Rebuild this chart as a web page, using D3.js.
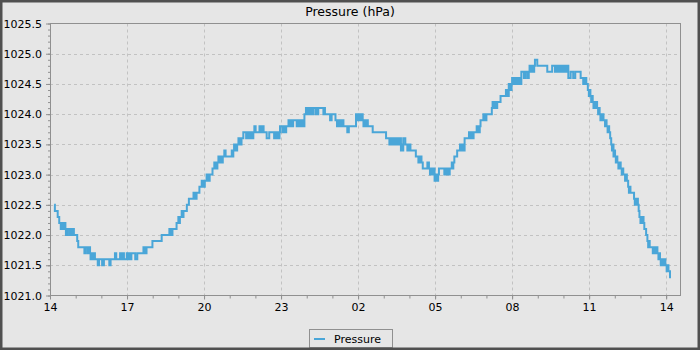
<!DOCTYPE html>
<html>
<head>
<meta charset="utf-8">
<script src="https://cdn.jsdelivr.net/npm/d3@7/dist/d3.min.js"></script>
<style>
  html, body { margin: 0; padding: 0; background: #e6e6e6; }
  svg { display: block; }
  text { font-family: "DejaVu Sans", sans-serif; fill: #000; }
</style>
</head>
<body>
<svg id="chart" width="700" height="350"></svg>
<script>
// Hour offsets of the x-axis ticks from the first label, and their labels
const xTickHours = [0, 3, 6, 9, 12, 15, 18, 21, 24];
const xTickLabels = ["14", "17", "20", "23", "02", "05", "08", "11", "14"];
const xMinorHours = d3.range(0, 25, 1);
const xSpanHours = 24.54;

// Pressure axis
const yDomain = [1021.0, 1025.5];
const yMajorTicks = [1021.0, 1021.5, 1022.0, 1022.5, 1023.0, 1023.5, 1024.0, 1024.5, 1025.0, 1025.5];
const yMinorTicks = d3.range(10210, 10256, 1).map(v => v / 10);

const chartTitle = "Pressure (hPa)";
const seriesName = "Pressure";

// Readings: [hours after 14:00, pressure in hPa]; each value holds until the next reading
const readings = [
  [0.16,1022.5],[0.19,1022.4],[0.30,1022.3],[0.36,1022.2],[0.42,1022.1],[0.45,1022.2],[0.48,1022.1],[0.51,1022.2],[0.54,1022.1],[0.57,1022.2],[0.60,1022.1],
  [0.62,1022.0],[0.65,1022.1],[0.68,1022.0],[0.70,1022.1],
  [0.78,1022.0],[0.81,1022.1],[0.83,1022.0],[0.86,1022.1],[0.88,1022.0],[0.90,1022.1],[0.93,1022.0],[1.06,1021.9],[1.10,1021.8],
  [1.34,1021.7],[1.38,1021.8],[1.46,1021.7],[1.48,1021.8],[1.50,1021.7],[1.53,1021.8],[1.56,1021.7],
  [1.58,1021.6],[1.61,1021.7],[1.64,1021.6],[1.67,1021.7],[1.70,1021.6],[1.72,1021.7],[1.75,1021.6],
  [1.86,1021.5],[1.91,1021.6],[2.03,1021.5],[2.05,1021.6],[2.07,1021.5],[2.10,1021.6],[2.31,1021.5],[2.36,1021.6],
  [2.53,1021.7],[2.58,1021.6],
  [2.73,1021.7],[2.76,1021.6],[2.79,1021.7],[2.82,1021.6],[2.85,1021.7],[2.88,1021.6],
  [2.99,1021.7],[3.02,1021.6],[3.05,1021.7],[3.08,1021.6],[3.11,1021.7],[3.14,1021.6],[3.17,1021.7],
  [3.32,1021.6],[3.40,1021.7],
  [3.64,1021.8],[3.67,1021.7],[3.70,1021.8],[3.73,1021.7],[3.76,1021.8],
  [3.99,1021.9],[4.35,1022.0],[4.65,1022.1],[4.68,1022.0],[4.71,1022.1],[4.74,1022.0],[4.77,1022.1],
  [4.93,1022.2],[5.00,1022.3],[5.03,1022.2],[5.06,1022.3],[5.13,1022.4],[5.17,1022.3],[5.20,1022.4],[5.33,1022.5],[5.41,1022.6],
  [5.59,1022.7],[5.62,1022.6],[5.65,1022.7],[5.68,1022.6],[5.71,1022.7],
  [5.82,1022.8],
  [5.91,1022.9],[5.94,1022.8],[5.97,1022.9],[6.00,1022.8],[6.03,1022.9],
  [6.10,1023.0],[6.13,1022.9],[6.16,1023.0],[6.19,1022.9],[6.22,1023.0],
  [6.33,1023.1],[6.40,1023.2],[6.43,1023.1],[6.46,1023.2],[6.49,1023.1],[6.52,1023.2],
  [6.56,1023.3],[6.59,1023.2],[6.62,1023.3],[6.65,1023.2],[6.68,1023.3],[6.71,1023.2],[6.73,1023.3],
  [6.79,1023.4],[6.84,1023.3],
  [7.08,1023.4],[7.11,1023.3],[7.14,1023.4],
  [7.17,1023.5],[7.20,1023.4],[7.23,1023.5],[7.26,1023.4],[7.29,1023.5],
  [7.34,1023.6],[7.37,1023.5],[7.40,1023.6],[7.43,1023.5],[7.46,1023.6],
  [7.53,1023.7],
  [7.64,1023.6],[7.67,1023.7],[7.70,1023.6],[7.73,1023.7],[7.76,1023.6],[7.79,1023.7],[7.82,1023.6],[7.85,1023.7],[7.88,1023.6],[7.92,1023.7],
  [7.96,1023.8],[8.01,1023.7],[8.16,1023.8],[8.21,1023.7],[8.27,1023.8],[8.32,1023.7],
  [8.44,1023.6],[8.54,1023.7],
  [8.73,1023.6],[8.76,1023.7],[8.79,1023.6],[8.82,1023.7],[8.85,1023.6],[8.88,1023.7],[8.91,1023.6],[8.94,1023.7],
  [8.96,1023.8],
  [9.05,1023.7],[9.08,1023.8],[9.11,1023.7],[9.14,1023.8],[9.17,1023.7],[9.20,1023.8],
  [9.29,1023.9],[9.32,1023.8],[9.35,1023.9],[9.38,1023.8],[9.41,1023.9],[9.44,1023.8],[9.47,1023.9],
  [9.61,1023.8],[9.64,1023.9],[9.67,1023.8],[9.70,1023.9],[9.73,1023.8],
  [9.76,1023.9],[9.79,1023.8],[9.84,1023.9],[9.87,1023.8],
  [9.91,1024.0],[9.97,1024.1],
  [10.00,1024.0],[10.03,1024.1],[10.06,1024.0],[10.09,1024.1],[10.12,1024.0],[10.15,1024.1],[10.18,1024.0],[10.21,1024.1],[10.24,1024.0],[10.27,1024.1],
  [10.36,1024.0],[10.39,1024.1],[10.42,1024.0],[10.45,1024.1],
  [10.65,1024.0],[10.68,1024.1],[10.71,1024.0],
  [10.91,1023.9],[10.97,1024.0],
  [11.12,1023.9],[11.18,1023.8],[11.21,1023.9],[11.24,1023.8],[11.27,1023.9],[11.30,1023.8],[11.33,1023.9],[11.36,1023.8],[11.39,1023.9],[11.43,1023.8],
  [11.58,1023.7],[11.64,1023.8],
  [11.92,1024.0],[11.95,1023.9],[11.98,1024.0],[12.01,1023.9],[12.04,1024.0],[12.07,1023.9],[12.10,1024.0],[12.13,1023.9],[12.16,1024.0],
  [12.18,1023.9],[12.21,1023.8],[12.24,1023.9],[12.27,1023.8],[12.30,1023.9],[12.33,1023.8],[12.36,1023.9],[12.38,1023.8],
  [12.57,1023.7],
  [13.09,1023.6],
  [13.22,1023.5],[13.25,1023.6],[13.28,1023.5],[13.31,1023.6],[13.34,1023.5],[13.37,1023.6],[13.40,1023.5],[13.44,1023.6],
  [13.50,1023.5],[13.53,1023.6],[13.56,1023.5],[13.59,1023.6],[13.62,1023.5],[13.65,1023.6],
  [13.67,1023.4],[13.70,1023.5],[13.73,1023.4],[13.76,1023.6],[13.84,1023.5],
  [13.92,1023.4],[13.95,1023.5],[13.98,1023.4],[14.01,1023.5],[14.04,1023.4],
  [14.25,1023.3],[14.35,1023.2],[14.38,1023.3],[14.41,1023.2],[14.44,1023.3],[14.47,1023.2],
  [14.52,1023.1],[14.70,1023.2],[14.76,1023.1],
  [14.80,1023.0],[14.83,1023.1],[14.86,1023.0],[14.89,1023.1],[14.92,1023.0],[14.95,1023.1],
  [14.98,1022.9],[15.01,1023.0],[15.04,1022.9],[15.07,1023.0],[15.10,1022.9],[15.12,1023.0],
  [15.15,1023.1],
  [15.36,1023.0],[15.39,1023.1],[15.42,1023.0],[15.45,1023.1],[15.48,1023.0],[15.51,1023.1],[15.54,1023.0],[15.57,1023.1],
  [15.65,1023.2],[15.68,1023.1],[15.71,1023.2],[15.75,1023.3],
  [15.86,1023.4],
  [15.97,1023.5],[16.00,1023.4],[16.03,1023.5],[16.06,1023.4],[16.09,1023.5],[16.12,1023.4],
  [16.15,1023.6],
  [16.32,1023.7],[16.35,1023.6],[16.38,1023.7],[16.41,1023.6],[16.44,1023.7],[16.47,1023.6],[16.50,1023.7],
  [16.62,1023.8],[16.65,1023.7],[16.68,1023.8],[16.71,1023.7],[16.74,1023.8],
  [16.77,1023.9],
  [16.88,1024.0],[16.91,1023.9],[16.94,1024.0],[16.97,1023.9],[17.00,1024.0],
  [17.21,1024.1],
  [17.24,1024.2],[17.27,1024.1],[17.30,1024.2],[17.33,1024.1],[17.36,1024.2],[17.39,1024.1],[17.42,1024.2],
  [17.55,1024.3],
  [17.76,1024.4],[17.79,1024.3],[17.82,1024.4],[17.85,1024.3],
  [17.87,1024.5],[17.90,1024.4],[17.93,1024.5],[17.96,1024.4],[17.98,1024.5],
  [18.00,1024.6],[18.03,1024.5],[18.06,1024.6],[18.09,1024.5],[18.12,1024.6],[18.15,1024.5],[18.18,1024.6],[18.21,1024.5],[18.24,1024.6],[18.27,1024.5],[18.30,1024.6],[18.33,1024.5],
  [18.36,1024.7],[18.46,1024.6],[18.52,1024.7],[18.60,1024.6],[18.65,1024.7],
  [18.68,1024.8],[18.71,1024.7],[18.74,1024.8],[18.77,1024.7],[18.80,1024.8],[18.83,1024.7],[18.86,1024.8],
  [18.89,1024.9],[18.98,1024.8],
  [19.37,1024.7],[19.56,1024.8],
  [19.67,1024.7],[19.70,1024.8],[19.73,1024.7],[19.76,1024.8],[19.80,1024.7],[19.84,1024.8],[19.88,1024.7],[19.92,1024.8],[19.96,1024.7],[20.00,1024.8],[20.04,1024.7],[20.08,1024.8],[20.12,1024.7],[20.16,1024.8],
  [20.19,1024.6],[20.28,1024.7],[20.38,1024.6],[20.46,1024.7],
  [20.67,1024.6],
  [20.77,1024.5],[20.80,1024.6],[20.83,1024.5],[20.86,1024.6],[20.89,1024.5],
  [20.95,1024.4],[20.99,1024.3],[21.02,1024.4],[21.05,1024.3],
  [21.08,1024.2],[21.11,1024.3],[21.14,1024.2],[21.17,1024.1],
  [21.22,1024.2],[21.25,1024.1],[21.28,1024.2],[21.31,1024.1],
  [21.35,1024.0],[21.38,1024.1],[21.41,1024.0],[21.44,1023.9],[21.47,1024.0],[21.50,1023.9],[21.53,1024.0],[21.56,1023.9],
  [21.62,1023.8],[21.65,1023.9],[21.68,1023.8],[21.72,1023.7],[21.75,1023.8],[21.78,1023.7],
  [21.82,1023.6],[21.86,1023.5],[21.89,1023.4],[21.92,1023.5],[21.95,1023.3],[21.98,1023.4],[22.01,1023.3],[22.04,1023.2],[22.07,1023.3],[22.10,1023.2],
  [22.14,1023.1],[22.20,1023.2],[22.23,1023.1],[22.27,1023.0],[22.30,1023.1],[22.33,1023.0],
  [22.40,1022.9],[22.44,1023.0],[22.47,1022.9],
  [22.52,1022.8],[22.55,1022.7],[22.58,1022.8],[22.61,1022.7],
  [22.75,1022.6],[22.78,1022.5],[22.81,1022.6],[22.84,1022.5],[22.87,1022.6],[22.90,1022.5],
  [22.93,1022.4],[22.96,1022.3],[23.00,1022.2],[23.03,1022.3],[23.06,1022.2],[23.09,1022.3],[23.12,1022.2],
  [23.15,1022.1],[23.22,1022.0],[23.27,1021.9],[23.30,1021.8],[23.33,1021.9],[23.36,1021.8],
  [23.48,1021.7],[23.51,1021.8],[23.54,1021.7],[23.57,1021.8],[23.60,1021.7],[23.63,1021.8],[23.66,1021.7],
  [23.70,1021.6],[23.73,1021.7],[23.76,1021.6],[23.79,1021.5],[23.82,1021.6],[23.85,1021.5],[23.88,1021.6],[23.91,1021.5],[23.94,1021.6],[23.97,1021.5],
  [24.02,1021.4],[24.05,1021.5],[24.09,1021.4],[24.15,1021.3],[24.19,1021.3]
];

const W = 700, H = 350;
const plot = { left: 50, right: 680, top: 23.5, bottom: 295.5 };
const lineColor = "#4aa6d8";
const gridColor = "#c2c2c2";
const frameColor = "#909090";

const svg = d3.select("#chart");

svg.append("rect").attr("width", W).attr("height", H).attr("fill", "#e6e6e6");

const x = d3.scaleLinear().domain([0, xSpanHours]).range([plot.left, plot.right]);
const y = d3.scaleLinear().domain(yDomain).range([plot.bottom, plot.top]);

// Grid
const grid = svg.append("g").attr("stroke", gridColor).attr("stroke-width", 1).attr("stroke-dasharray", "3,3");
grid.selectAll("line.h").data(yMajorTicks.slice(1, -1)).join("line")
  .attr("x1", plot.left).attr("x2", plot.right)
  .attr("y1", d => Math.round(y(d)) + 0.5).attr("y2", d => Math.round(y(d)) + 0.5);
grid.selectAll("line.v").data(xTickHours.slice(1)).join("line")
  .attr("x1", d => Math.round(x(d)) + 0.5).attr("x2", d => Math.round(x(d)) + 0.5)
  .attr("y1", plot.top).attr("y2", plot.bottom);

// Axes
const labelFor = d3.scaleOrdinal().domain(xTickHours).range(xTickLabels);

const xMajor = d3.axisBottom(x).tickValues(xTickHours).tickSize(4).tickPadding(4).tickFormat(d => labelFor(d));
const xMinor = d3.axisBottom(x).tickValues(xMinorHours).tickSize(3).tickFormat("");
const yMajor = d3.axisLeft(y).tickValues(yMajorTicks).tickSize(4).tickPadding(4).tickFormat(d3.format(".1f"));
const yMinor = d3.axisLeft(y).tickValues(yMinorTicks).tickSize(2).tickFormat("");

function styleAxis(g) {
  g.select(".domain").remove();
  g.selectAll(".tick line").attr("stroke", frameColor);
  g.selectAll(".tick text").attr("font-family", "DejaVu Sans").attr("font-size", 11).attr("fill", "#000");
}

svg.append("g").attr("transform", `translate(0,${plot.bottom})`).call(xMinor).call(styleAxis);
svg.append("g").attr("transform", `translate(0,${plot.bottom})`).call(xMajor).call(styleAxis);
svg.append("g").attr("transform", `translate(${plot.left},0)`).call(yMinor).call(styleAxis);
svg.append("g").attr("transform", `translate(${plot.left},0)`).call(yMajor).call(styleAxis);

// Plot frame
svg.append("rect")
  .attr("x", plot.left + 0.5).attr("y", plot.top)
  .attr("width", plot.right - plot.left).attr("height", plot.bottom - plot.top)
  .attr("fill", "none").attr("stroke", frameColor).attr("stroke-width", 1);

// Pressure series
const line = d3.line()
  .x(d => x(d[0]))
  .y(d => y(d[1]))
  .curve(d3.curveStepAfter);

svg.append("path")
  .datum(readings)
  .attr("d", line)
  .attr("fill", "none")
  .attr("stroke", lineColor)
  .attr("stroke-width", 2)
  .attr("stroke-linejoin", "miter");

// Title
svg.append("text")
  .attr("x", W / 2).attr("y", 16)
  .attr("text-anchor", "middle")
  .attr("font-size", 12.5)
  .text(chartTitle);

// Legend
const legend = svg.append("g");
legend.append("rect")
  .attr("x", 309.5).attr("y", 329.5).attr("width", 83).attr("height", 18)
  .attr("fill", "#e6e6e6").attr("stroke", frameColor);
legend.append("line")
  .attr("x1", 314).attr("x2", 325).attr("y1", 339).attr("y2", 339)
  .attr("stroke", lineColor).attr("stroke-width", 2);
legend.append("text")
  .attr("x", 334).attr("y", 342.5)
  .attr("font-size", 11)
  .text(seriesName);

// Outer frame
svg.append("rect")
  .attr("x", 1.25).attr("y", 1.25).attr("width", W - 2.5).attr("height", H - 2.5)
  .attr("fill", "none").attr("stroke", "#505050").attr("stroke-width", 2.5);
</script>
</body>
</html>
